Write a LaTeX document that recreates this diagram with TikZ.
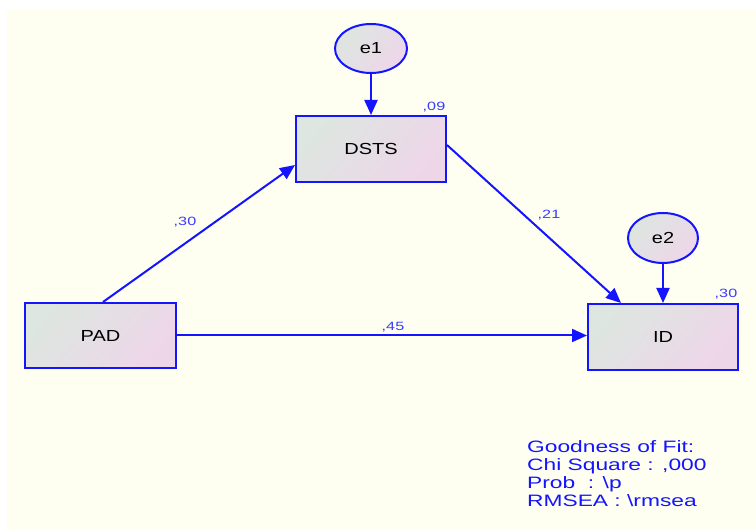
\documentclass[tikz,border=0pt]{standalone}
\usepackage{fontspec}
\setmainfont{Liberation Sans}
\newfontfamily\boxfont[FakeStretch=1.25]{Liberation Sans}
\newfontfamily\numfont[FakeStretch=1.35]{Liberation Sans}
\newfontfamily\fitfont[FakeStretch=1.38]{Liberation Sans}
\usetikzlibrary{arrows.meta,shapes.geometric,calc}
\definecolor{paper}{RGB}{254,255,240}
\definecolor{edgeblue}{RGB}{20,20,255}
\definecolor{numblue}{RGB}{60,60,255}
\definecolor{fitblue}{RGB}{20,20,255}
\definecolor{fillA}{RGB}{221,230,224}
\definecolor{fillB}{RGB}{238,214,233}
\tikzset{
  varbox/.style={draw=edgeblue, line width=2pt,
    top color=fillA, bottom color=fillB, shading angle=50,
    minimum width=150pt, minimum height=66pt, inner sep=0pt,
    font=\boxfont\fontsize{16}{18}\selectfont},
  errnode/.style={ellipse, draw=edgeblue, line width=2pt,
    top color=fillA, bottom color=fillB, shading angle=50,
    minimum width=72pt, minimum height=49pt, inner sep=0pt,
    font=\boxfont\fontsize{16}{18}\selectfont},
  pathline/.style={draw=edgeblue, line width=2pt,
    -{Triangle[length=15pt,width=13pt]}},
  coef/.style={text=numblue, inner sep=0pt, font=\numfont\fontsize{12}{14}\selectfont},
  fitline/.style={text=fitblue, inner sep=0pt, anchor=base west,
    font=\fitfont\fontsize{16.5}{18}\selectfont},
}
\begin{document}
\begin{tikzpicture}[x=1pt,y=-1pt]
  \useasboundingbox (0,0) rectangle (756,529);
  \fill[paper] (7,10) rectangle (756,529);

  % observed variables
  \node[varbox] (DSTS) at (371,149) {DSTS};
  \node[varbox, minimum width=151pt, minimum height=65pt] (PAD) at (100.5,335.5) {PAD};
  \node[varbox] (ID) at (663,337) {ID};

  % error terms
  \node[errnode] (e1) at (371,48.5) {e1};
  \node[errnode, minimum width=70pt, minimum height=50pt] (e2) at (663,238) {e2};

  % paths
  \draw[pathline] (e1.south) -- (DSTS.north);
  \draw[pathline] (e2.south) -- (ID.north);
  \draw[pathline] ([xshift=2.5pt]PAD.north) -- ([yshift=-16pt]DSTS.west);
  \draw[pathline] ([yshift=4pt]DSTS.east) -- ([xshift=-42pt]ID.north);
  \draw[pathline] (PAD.east) -- (PAD.east -| ID.west);

  % estimates
  \node[coef] (c30) at (185,222) {,30};
  \node[coef] (c21) at (549,215) {,21};
  \node[coef] (c45) at (393,327) {,45};
  \node[coef] (r09) at (434,107) {,09};
  \node[coef] (r30) at (726,294) {,30};

  % fit summary
  \node[fitline] (fit1) at (527,453) {Goodness of Fit:};
  \node[fitline] (fit2) at (527,471) {Chi Square : ,000};
  \node[fitline] (fit3) at (527,489) {Prob \ : \textbackslash p};
  \node[fitline] (fit4) at (527,507) {RMSEA : \textbackslash rmsea};
\end{tikzpicture}
\end{document}
